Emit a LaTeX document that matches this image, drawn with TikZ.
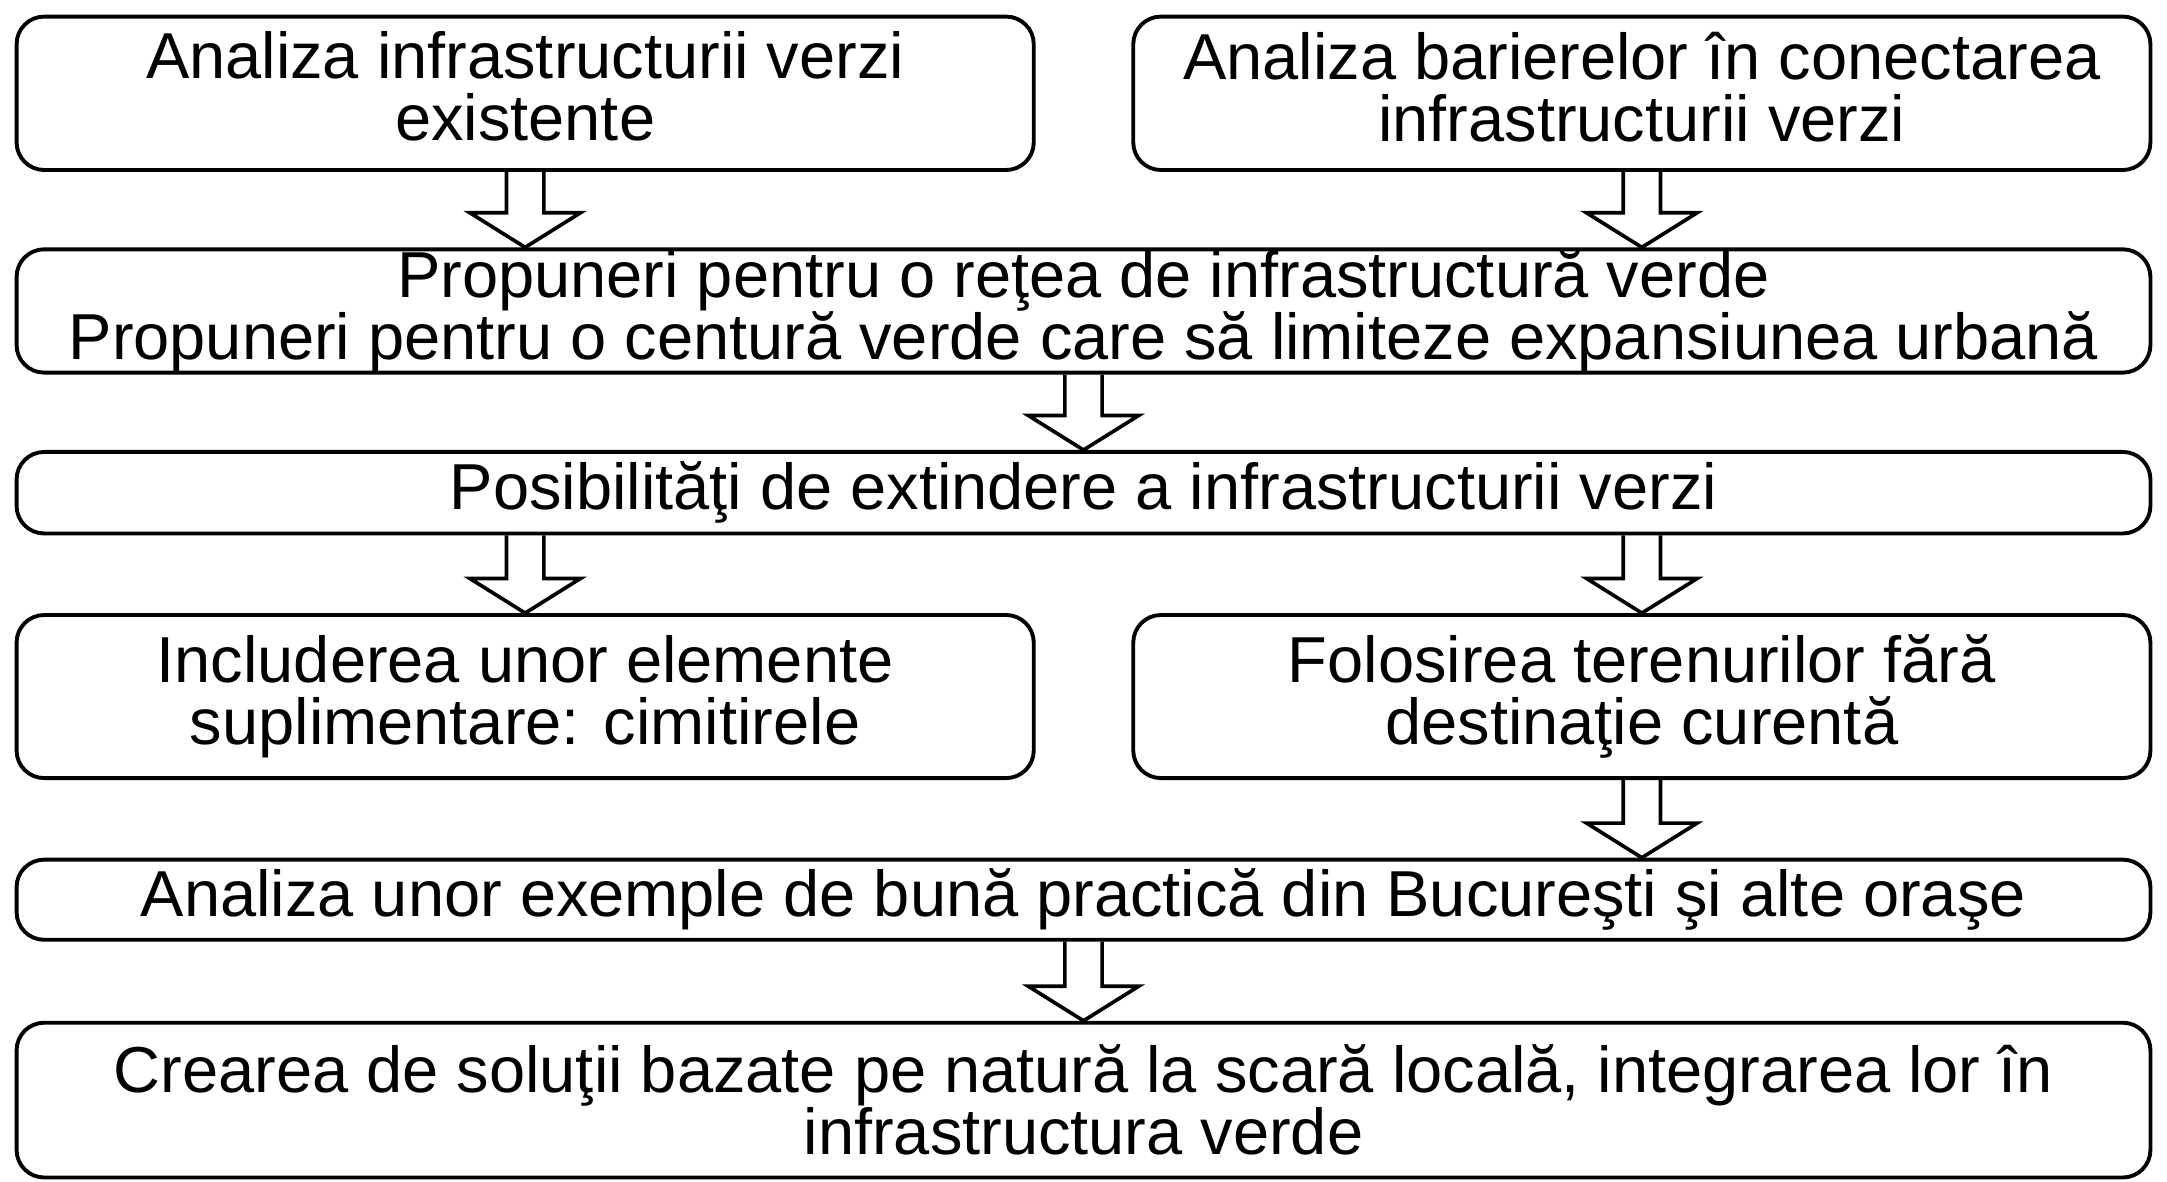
\documentclass[tikz,border=0pt]{standalone}
\usepackage{fontspec}
\setmainfont{Liberation Sans}
\usetikzlibrary{calc}

\tikzset{
  box/.style={draw, rounded corners=4mm, line width=1.6pt, inner sep=0pt, align=center, minimum width=147.2mm},
  wide/.style={box, minimum width=308.8mm},
  fat/.style={line width=1.5pt, line join=miter}
}
\newcommand{\fatarrow}[2]{%
  \draw[fat] let \p1=(#1), \p2=(#2) in
    (\x1-2.7mm,\y1) -- (\x1-2.7mm,\y2+5mm) -- (\x1-8mm,\y2+5mm) -- (\x1,\y2)
    -- (\x1+8mm,\y2+5mm) -- (\x1+2.7mm,\y2+5mm) -- (\x1+2.7mm,\y1);}
\newcommand{\lift}{\rule[-2mm]{0pt}{0pt}}

\begin{document}
\begin{tikzpicture}[x=0.2mm, y=-0.2mm, font=\fontsize{26.75}{25.5}\selectfont]
\useasboundingbox (0,0) rectangle (1568,855);

\node[box, minimum height=22.2mm] (infra) at (380,67.5) {Analiza infrastructurii verzi\\existente\lift};
\node[box, minimum height=22.2mm] (bariere) at (1188,67.5) {Analiza barierelor în conectarea\\infrastructurii verzi\lift};
\node[wide, minimum height=17.2mm] (retea) at (784,225) {Propuneri pentru o reţea de infrastructură verde\\Propuneri pentru o centură verde care să limiteze expansiunea urbană};
\node[wide, minimum height=11.8mm] (extindere) at (784,356.5) {Posibilităţi de extindere a infrastructurii verzi};
\node[box, minimum height=23.6mm] (cimitire) at (380,504) {Includerea unor elemente\\suplimentare: cimitirele};
\node[box, minimum height=23.6mm] (terenuri) at (1188,504) {Folosirea terenurilor fără\\destinaţie curentă};
\node[wide, minimum height=11.6mm] (exemple) at (784,651) {Analiza unor exemple de bună practică din Bucureşti şi alte oraşe};
\node[wide, minimum height=22.4mm] (solutii) at (784,796) {Crearea de soluţii bazate pe natură la scară locală, integrarea lor în\\infrastructura verde};

\foreach \up in {infra,bariere}{
\fatarrow{\up.south}{\up.south |- retea.north}
}
\fatarrow{retea.south}{extindere.north}
\foreach \down in {cimitire,terenuri}{
\fatarrow{extindere.south -| \down.north}{\down.north}
}
\fatarrow{terenuri.south}{terenuri.south |- exemple.north}
\fatarrow{exemple.south}{solutii.north}
\end{tikzpicture}
\end{document}
